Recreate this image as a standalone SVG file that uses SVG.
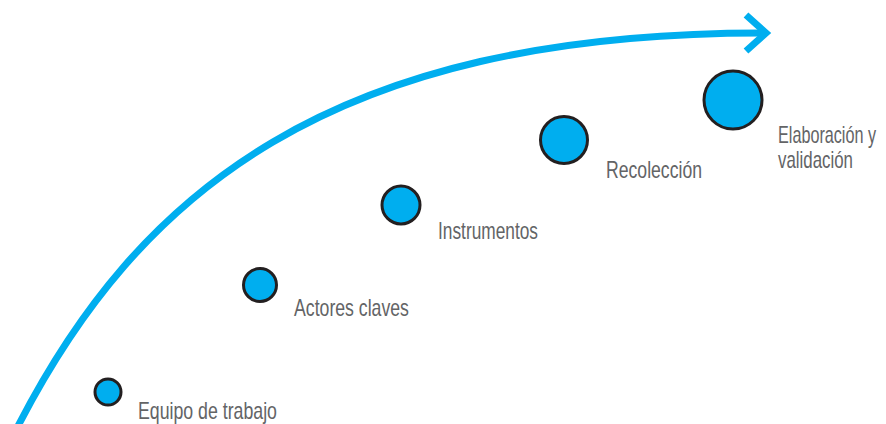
<svg xmlns="http://www.w3.org/2000/svg" width="886" height="424" viewBox="0 0 886 424">
<style>
.dot{fill:#00AEEF;stroke:#231F20;stroke-width:3}
.lbl{font-family:"Liberation Sans",Arial,sans-serif;font-size:23px;fill:#636466}
.arc{fill:none;stroke:#00AEEF;stroke-width:7}
</style>
<rect width="886" height="424" fill="#fff"/>
<g id="connectors">
<path class="arc" d="M17,428 C138,192 330,33 762,33"/>
<path class="arc" d="M746,15 L766,33 L746,51"/>
</g>
<g id="equipo"><circle class="dot" cx="108" cy="392" r="13"/><text class="lbl" transform="translate(138,419) scale(0.75,1)" textLength="185.3" lengthAdjust="spacingAndGlyphs">Equipo de trabajo</text></g>
<g id="actores"><circle class="dot" cx="260" cy="285" r="16.5"/><text class="lbl" transform="translate(294,316) scale(0.75,1)" textLength="153.3" lengthAdjust="spacingAndGlyphs">Actores claves</text></g>
<g id="instrumentos"><circle class="dot" cx="401" cy="205" r="19"/><text class="lbl" transform="translate(438,239) scale(0.75,1)" textLength="133.3" lengthAdjust="spacingAndGlyphs">Instrumentos</text></g>
<g id="recoleccion"><circle class="dot" cx="564" cy="140" r="23.5"/><text class="lbl" transform="translate(606,178) scale(0.75,1)" textLength="128" lengthAdjust="spacingAndGlyphs">Recolección</text></g>
<g id="elaboracion"><circle class="dot" cx="733" cy="100" r="29"/><text class="lbl" transform="translate(778,143) scale(0.75,1)" textLength="130.7" lengthAdjust="spacingAndGlyphs">Elaboración y</text><text class="lbl" transform="translate(778,168) scale(0.75,1)" textLength="100" lengthAdjust="spacingAndGlyphs">validación</text></g>
</svg>
